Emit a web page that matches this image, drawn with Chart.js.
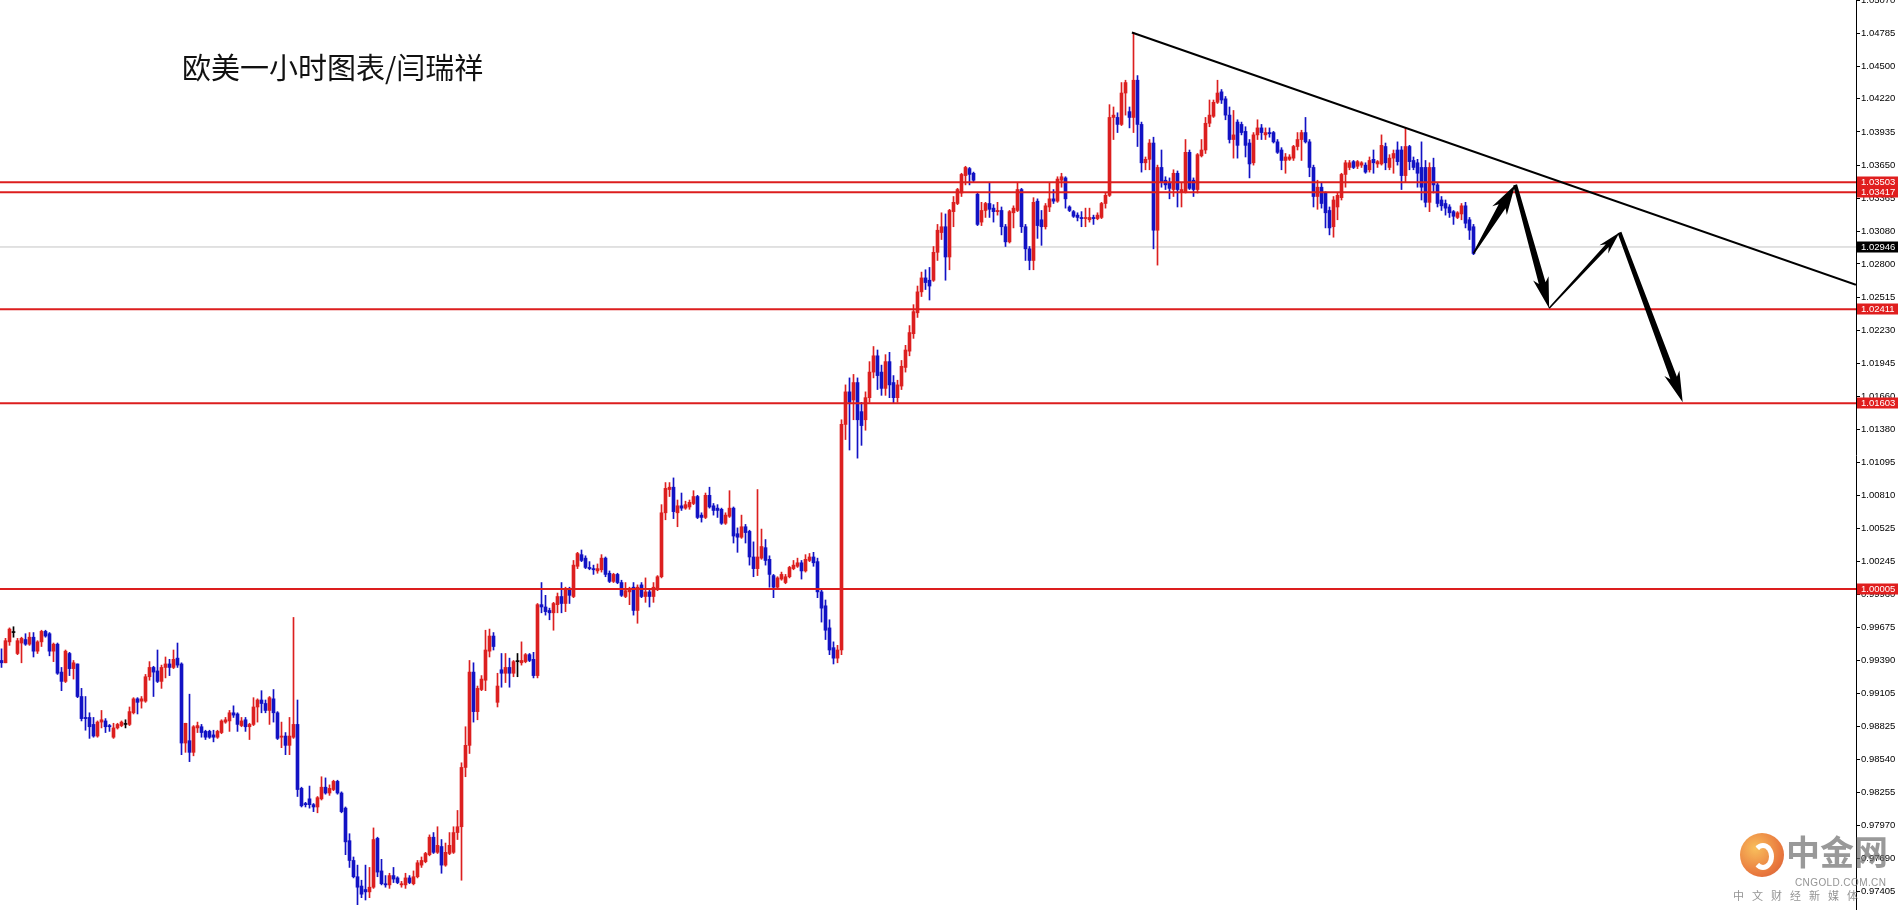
<!DOCTYPE html>
<html>
<head>
<meta charset="utf-8">
<title>欧美一小时图表</title>
<script src="https://cdn.jsdelivr.net/npm/chart.js@4.4.1/dist/chart.umd.min.js"></script>
<style>
  html, body { margin: 0; padding: 0; background: #fff; overflow: hidden; }
  #wrap { position: relative; width: 1898px; height: 910px; }
  #title { position: absolute; left: 182px; top: 52px; font-size: 29px; line-height: 29px;
           font-family: "Noto Sans CJK SC", sans-serif; color: #111; white-space: nowrap; }
  #logo { position: absolute; left: 1740px; top: 833px; width: 44px; height: 44px; border-radius: 50%;
          background: radial-gradient(circle at 35% 35%, #f8b440, #e5601c 65%, #c8401a); opacity: 0.85; }
  #swirl { position: absolute; left: 12px; top: 10px; width: 12px; height: 17px; border: 5px solid #fff;
           border-radius: 50%; border-left-color: transparent; }
  #wmName { position: absolute; left: 1786px; top: 834px; font: bold 34px/34px "Noto Sans CJK SC", sans-serif;
            color: rgba(110,110,110,0.7); white-space: nowrap; }
  #wmUrl { position: absolute; left: 1795px; top: 877px; font: 10px/12px "Liberation Sans", sans-serif;
           color: rgba(120,120,120,0.8); letter-spacing: 0.4px; white-space: nowrap; }
  #wmSub { position: absolute; left: 1733px; top: 889px; font: 11px/13px "Noto Sans CJK SC", sans-serif;
           color: rgba(120,120,120,0.8); letter-spacing: 8px; white-space: nowrap; }
</style>
</head>
<body>
<div id="wrap">
  <canvas id="eurusdChart"></canvas>
  <div id="title">欧美一小时图表/闫瑞祥</div>
  <div id="logo"><div id="swirl"></div></div>
  <div id="wmName">中金网</div>
  <div id="wmUrl">CNGOLD.COM.CN</div>
  <div id="wmSub">中文财经新媒体</div>
</div>
<script>
// hourly EUR/USD candles (oldest first)
const OPEN = [
  0.9939,0.9937,0.9955,0.9963,0.9945,0.9954,0.9957,0.9953,0.9959,0.9947,
  0.9955,0.9964,0.9962,0.9947,0.9953,0.9929,0.9921,0.9945,0.9932,0.9936,
  0.9908,0.9890,0.9890,0.9884,0.9874,0.9886,0.9887,0.9883,0.9873,0.9881,
  0.9883,0.9884,0.9884,0.9894,0.9906,0.9904,0.9904,0.9925,0.9933,0.9930,
  0.9921,0.9933,0.9936,0.9933,0.9941,0.9936,0.9868,0.9870,0.9860,0.9881,
  0.9882,0.9878,0.9878,0.9875,0.9873,0.9877,0.9886,0.9887,0.9894,0.9893,
  0.9883,0.9888,0.9882,0.9884,0.9899,0.9905,0.9902,0.9896,0.9906,0.9894,
  0.9873,0.9874,0.9866,0.9873,0.9884,0.9829,0.9816,0.9820,0.9815,0.9813,
  0.9820,0.9830,0.9825,0.9828,0.9835,0.9825,0.9812,0.9784,0.9767,0.9753,
  0.9745,0.9742,0.9740,0.9744,0.9786,0.9758,0.9747,0.9746,0.9754,0.9752,
  0.9746,0.9746,0.9752,0.9747,0.9753,0.9763,0.9766,0.9772,0.9787,0.9774,
  0.9779,0.9763,0.9773,0.9774,0.9791,0.9796,0.9847,0.9866,0.9929,0.9895,
  0.9914,0.9922,0.9947,0.9960,0.9903,0.9931,0.9928,0.9933,0.9928,0.9938,
  0.9937,0.9938,0.9944,0.9940,0.9926,0.9987,0.9985,0.9982,0.9980,0.9987,
  0.9994,0.9988,1.0000,0.9994,1.0020,1.0030,1.0027,1.0019,1.0018,1.0016,
  1.0017,1.0027,1.0014,1.0007,1.0013,1.0006,0.9994,0.9998,1.0002,0.9982,
  1.0004,0.9994,0.9998,0.9994,1.0000,1.0011,1.0066,1.0086,1.0088,1.0066,
  1.0072,1.0070,1.0071,1.0074,1.0080,1.0064,1.0062,1.0081,1.0072,1.0070,
  1.0069,1.0057,1.0063,1.0070,1.0048,1.0045,1.0054,1.0050,1.0028,1.0018,
  1.0027,1.0036,1.0026,1.0012,1.0002,1.0009,1.0006,1.0011,1.0018,1.0020,
  1.0023,1.0016,1.0025,1.0028,1.0024,0.9998,0.9986,0.9967,0.9950,0.9941,
  0.9948,1.0142,1.0170,1.0163,1.0178,1.0153,1.0146,1.0165,1.0187,1.0201,
  1.0187,1.0173,1.0196,1.0178,1.0165,1.0175,1.0191,1.0205,1.0220,1.0238,
  1.0256,1.0268,1.0266,1.0266,1.0290,1.0307,1.0312,1.0286,1.0325,1.0332,
  1.0341,1.0356,1.0362,1.0358,1.0340,1.0316,1.0326,1.0332,1.0328,1.0325,
  1.0326,1.0312,1.0299,1.0324,1.0326,1.0344,1.0312,1.0293,1.0283,1.0334,
  1.0318,1.0312,1.0329,1.0336,1.0334,1.0352,1.0354,1.0329,1.0325,1.0322,
  1.0320,1.0319,1.0318,1.0320,1.0319,1.0320,1.0332,1.0339,1.0406,1.0406,
  1.0400,1.0427,1.0411,1.0406,1.0438,1.0400,1.0367,1.0370,1.0384,1.0309,
  1.0363,1.0352,1.0350,1.0344,1.0358,1.0342,1.0342,1.0376,1.0352,1.0344,
  1.0373,1.0378,1.0401,1.0407,1.0419,1.0428,1.0422,1.0408,1.0387,1.0402,
  1.0400,1.0394,1.0384,1.0367,1.0391,1.0397,1.0391,1.0393,1.0393,1.0385,
  1.0378,1.0369,1.0370,1.0371,1.0381,1.0387,1.0393,1.0385,1.0363,1.0338,
  1.0346,1.0341,1.0326,1.0312,1.0329,1.0337,1.0357,1.0363,1.0368,1.0364,
  1.0365,1.0365,1.0361,1.0370,1.0366,1.0366,1.0381,1.0363,1.0371,1.0378,
  1.0378,1.0356,1.0381,1.0369,1.0367,1.0363,1.0363,1.0333,1.0363,1.0348,
  1.0335,1.0332,1.0329,1.0325,1.0320,1.0323,1.0330,1.0318,1.0312
];
const HIGH = [
  0.9949,0.9958,0.9967,0.9968,0.9958,0.9959,0.9962,0.9963,0.9963,0.9956,
  0.9965,0.9965,0.9963,0.9954,0.9954,0.9933,0.9948,0.9946,0.9939,0.9936,
  0.9915,0.9908,0.9894,0.9890,0.9887,0.9896,0.9889,0.9884,0.9885,0.9885,
  0.9887,0.9888,0.9899,0.9907,0.9907,0.9908,0.9927,0.9938,0.9934,0.9948,
  0.9935,0.9942,0.9940,0.9948,0.9954,0.9937,0.9885,0.9910,0.9883,0.9886,
  0.9884,0.9879,0.9879,0.9879,0.9879,0.9888,0.9890,0.9896,0.9900,0.9894,
  0.9890,0.9890,0.9885,0.9907,0.9906,0.9913,0.9905,0.9908,0.9914,0.9895,
  0.9886,0.9877,0.9890,0.9976,0.9905,0.9830,0.9817,0.9831,0.9816,0.9822,
  0.9839,0.9838,0.9832,0.9836,0.9836,0.9826,0.9813,0.9790,0.9770,0.9763,
  0.9750,0.9763,0.9761,0.9795,0.9787,0.9768,0.9754,0.9756,0.9761,0.9753,
  0.9749,0.9756,0.9754,0.9758,0.9767,0.9770,0.9774,0.9789,0.9791,0.9796,
  0.9785,0.9782,0.9791,0.9796,0.9810,0.9851,0.9882,0.9939,0.9937,0.9917,
  0.9926,0.9965,0.9966,0.9963,0.9928,0.9945,0.9945,0.9941,0.9939,0.9945,
  0.9955,0.9945,0.9945,0.9946,0.9988,1.0006,0.9995,0.9984,0.9989,0.9997,
  1.0006,1.0002,1.0002,1.0025,1.0032,1.0034,1.0029,1.0024,1.0021,1.0022,
  1.0030,1.0028,1.0016,1.0014,1.0014,1.0008,1.0006,1.0002,1.0006,1.0004,
  1.0006,1.0010,1.0000,1.0006,1.0012,1.0073,1.0092,1.0092,1.0096,1.0077,
  1.0083,1.0076,1.0077,1.0085,1.0081,1.0066,1.0083,1.0088,1.0074,1.0073,
  1.0070,1.0066,1.0085,1.0071,1.0053,1.0064,1.0056,1.0051,1.0041,1.0086,
  1.0052,1.0043,1.0029,1.0013,1.0011,1.0015,1.0013,1.0020,1.0025,1.0027,
  1.0025,1.0030,1.0031,1.0032,1.0027,1.0001,0.9991,0.9974,0.9955,0.9952,
  1.0146,1.0176,1.0182,1.0185,1.0182,1.0161,1.0170,1.0196,1.0209,1.0206,
  1.0193,1.0202,1.0204,1.0184,1.0180,1.0197,1.0210,1.0227,1.0245,1.0261,
  1.0273,1.0275,1.0277,1.0295,1.0314,1.0324,1.0323,1.0327,1.0338,1.0345,
  1.0358,1.0364,1.0363,1.0359,1.0341,1.0333,1.0333,1.0350,1.0331,1.0333,
  1.0329,1.0314,1.0326,1.0330,1.0350,1.0345,1.0314,1.0295,1.0337,1.0336,
  1.0326,1.0332,1.0350,1.0344,1.0355,1.0358,1.0355,1.0330,1.0326,1.0324,
  1.0325,1.0328,1.0328,1.0322,1.0324,1.0333,1.0341,1.0417,1.0415,1.0410,
  1.0436,1.0438,1.0415,1.0479,1.0442,1.0402,1.0372,1.0387,1.0389,1.0365,
  1.0378,1.0355,1.0354,1.0361,1.0360,1.0350,1.0387,1.0378,1.0354,1.0375,
  1.0387,1.0406,1.0421,1.0421,1.0438,1.0430,1.0424,1.0415,1.0412,1.0404,
  1.0402,1.0398,1.0387,1.0393,1.0404,1.0400,1.0397,1.0397,1.0394,1.0387,
  1.0380,1.0375,1.0374,1.0382,1.0393,1.0395,1.0406,1.0387,1.0365,1.0352,
  1.0350,1.0342,1.0329,1.0338,1.0341,1.0358,1.0369,1.0369,1.0369,1.0369,
  1.0368,1.0367,1.0372,1.0378,1.0369,1.0391,1.0384,1.0374,1.0378,1.0385,
  1.0381,1.0397,1.0382,1.0372,1.0370,1.0385,1.0369,1.0367,1.0371,1.0350,
  1.0338,1.0335,1.0331,1.0326,1.0325,1.0332,1.0333,1.0320,1.0314
];
const LOW = [
  0.9933,0.9937,0.9952,0.9959,0.9944,0.9937,0.9952,0.9952,0.9942,0.9945,
  0.9951,0.9959,0.9943,0.9938,0.9927,0.9913,0.9920,0.9926,0.9923,0.9907,
  0.9887,0.9879,0.9872,0.9873,0.9873,0.9881,0.9877,0.9878,0.9872,0.9880,
  0.9882,0.9881,0.9883,0.9893,0.9893,0.9898,0.9903,0.9922,0.9908,0.9920,
  0.9915,0.9924,0.9926,0.9932,0.9933,0.9858,0.9860,0.9852,0.9857,0.9877,
  0.9873,0.9871,0.9872,0.9869,0.9872,0.9876,0.9885,0.9878,0.9890,0.9878,
  0.9882,0.9878,0.9871,0.9883,0.9886,0.9894,0.9894,0.9884,0.9886,0.9871,
  0.9864,0.9858,0.9858,0.9872,0.9822,0.9813,0.9813,0.9812,0.9809,0.9808,
  0.9819,0.9824,0.9823,0.9827,0.9824,0.9808,0.9772,0.9761,0.9752,0.9729,
  0.9735,0.9733,0.9735,0.9743,0.9753,0.9746,0.9744,0.9743,0.9748,0.9747,
  0.9744,0.9743,0.9747,0.9746,0.9752,0.9761,0.9765,0.9771,0.9773,0.9773,
  0.9756,0.9762,0.9772,0.9773,0.9785,0.9750,0.9839,0.9859,0.9886,0.9888,
  0.9913,0.9913,0.9942,0.9948,0.9899,0.9916,0.9920,0.9916,0.9925,0.9925,
  0.9935,0.9937,0.9938,0.9924,0.9924,0.9980,0.9978,0.9974,0.9965,0.9980,
  0.9980,0.9981,0.9988,0.9993,1.0018,1.0024,1.0018,1.0017,1.0013,1.0014,
  1.0015,1.0011,1.0006,1.0006,1.0005,0.9994,0.9993,0.9987,0.9978,0.9971,
  0.9993,0.9989,0.9985,0.9989,0.9999,1.0010,1.0060,1.0080,1.0061,1.0054,
  1.0068,1.0069,1.0069,1.0073,1.0061,1.0058,1.0061,1.0070,1.0064,1.0062,
  1.0056,1.0056,1.0062,1.0040,1.0032,1.0044,1.0040,1.0021,1.0011,1.0012,
  1.0026,1.0021,1.0002,0.9993,1.0001,1.0008,1.0005,1.0010,1.0017,1.0019,
  1.0009,1.0015,1.0024,1.0020,0.9993,0.9972,0.9957,0.9944,0.9936,0.9937,
  0.9944,1.0129,1.0120,1.0146,1.0113,1.0124,1.0137,1.0161,1.0182,1.0172,
  1.0167,1.0167,1.0165,1.0160,1.0161,1.0172,1.0187,1.0201,1.0216,1.0234,
  1.0252,1.0258,1.0249,1.0265,1.0283,1.0301,1.0266,1.0275,1.0312,1.0331,
  1.0338,1.0348,1.0348,1.0350,1.0313,1.0313,1.0320,1.0320,1.0316,1.0322,
  1.0305,1.0295,1.0298,1.0311,1.0325,1.0307,1.0283,1.0275,1.0275,1.0302,
  1.0296,1.0310,1.0325,1.0332,1.0333,1.0346,1.0328,1.0325,1.0320,1.0317,
  1.0312,1.0312,1.0316,1.0314,1.0318,1.0319,1.0328,1.0338,1.0387,1.0393,
  1.0399,1.0408,1.0397,1.0393,1.0381,1.0359,1.0361,1.0361,1.0293,1.0279,
  1.0346,1.0344,1.0336,1.0338,1.0329,1.0329,1.0341,1.0344,1.0338,1.0341,
  1.0372,1.0375,1.0398,1.0406,1.0418,1.0418,1.0404,1.0384,1.0371,1.0371,
  1.0391,1.0372,1.0354,1.0365,1.0387,1.0387,1.0387,1.0389,1.0384,1.0375,
  1.0361,1.0358,1.0369,1.0369,1.0378,1.0369,1.0384,1.0355,1.0329,1.0327,
  1.0328,1.0311,1.0305,1.0303,1.0318,1.0335,1.0346,1.0361,1.0362,1.0362,
  1.0363,1.0358,1.0359,1.0358,1.0363,1.0365,1.0361,1.0361,1.0358,1.0365,
  1.0344,1.0350,1.0361,1.0361,1.0346,1.0335,1.0329,1.0325,1.0341,1.0329,
  1.0326,1.0322,1.0320,1.0314,1.0319,1.0318,1.0311,1.0301,1.0288
];
const CLOSE = [
  0.9937,0.9956,0.9966,0.9963,0.9956,0.9958,0.9953,0.9959,0.9947,0.9955,
  0.9964,0.9960,0.9947,0.9953,0.9928,0.9921,0.9947,0.9932,0.9937,0.9908,
  0.9889,0.9889,0.9882,0.9874,0.9886,0.9888,0.9882,0.9882,0.9881,0.9884,
  0.9886,0.9884,0.9895,0.9906,0.9903,0.9906,0.9925,0.9933,0.9929,0.9921,
  0.9933,0.9936,0.9933,0.9940,0.9935,0.9868,0.9885,0.9860,0.9882,0.9883,
  0.9877,0.9873,0.9873,0.9873,0.9878,0.9887,0.9888,0.9894,0.9892,0.9884,
  0.9887,0.9882,0.9884,0.9899,0.9905,0.9902,0.9896,0.9907,0.9894,0.9872,
  0.9874,0.9866,0.9874,0.9884,0.9828,0.9814,0.9815,0.9815,0.9813,0.9821,
  0.9830,0.9825,0.9829,0.9835,0.9825,0.9809,0.9783,0.9767,0.9753,0.9744,
  0.9738,0.9740,0.9744,0.9785,0.9757,0.9747,0.9746,0.9754,0.9751,0.9748,
  0.9747,0.9752,0.9748,0.9753,0.9765,0.9767,0.9773,0.9787,0.9774,0.9780,
  0.9763,0.9774,0.9780,0.9791,0.9796,0.9847,0.9866,0.9929,0.9895,0.9915,
  0.9923,0.9948,0.9960,0.9951,0.9917,0.9928,0.9933,0.9928,0.9938,0.9938,
  0.9939,0.9944,0.9939,0.9926,0.9987,0.9985,0.9981,0.9980,0.9988,0.9994,
  0.9988,1.0001,0.9995,1.0021,1.0031,1.0025,1.0019,1.0018,1.0017,1.0018,
  1.0027,1.0013,1.0007,1.0013,1.0006,0.9995,0.9999,1.0000,0.9982,1.0002,
  0.9994,0.9998,0.9994,1.0002,1.0011,1.0066,1.0087,1.0088,1.0067,1.0072,
  1.0070,1.0073,1.0075,1.0080,1.0062,1.0062,1.0081,1.0071,1.0068,1.0068,
  1.0057,1.0064,1.0070,1.0046,1.0045,1.0054,1.0049,1.0028,1.0018,1.0028,
  1.0037,1.0025,1.0013,1.0002,1.0010,1.0013,1.0011,1.0019,1.0021,1.0023,
  1.0016,1.0026,1.0028,1.0023,0.9998,0.9984,0.9965,0.9948,0.9941,0.9948,
  1.0142,1.0170,1.0161,1.0178,1.0146,1.0141,1.0165,1.0187,1.0201,1.0184,
  1.0173,1.0196,1.0176,1.0165,1.0176,1.0192,1.0206,1.0221,1.0239,1.0256,
  1.0268,1.0264,1.0261,1.0290,1.0309,1.0312,1.0286,1.0326,1.0333,1.0344,
  1.0357,1.0363,1.0357,1.0352,1.0314,1.0326,1.0332,1.0327,1.0325,1.0326,
  1.0312,1.0299,1.0325,1.0328,1.0344,1.0312,1.0293,1.0283,1.0333,1.0313,
  1.0312,1.0330,1.0336,1.0334,1.0353,1.0355,1.0336,1.0326,1.0321,1.0320,
  1.0319,1.0320,1.0320,1.0319,1.0322,1.0332,1.0339,1.0406,1.0408,1.0400,
  1.0427,1.0436,1.0406,1.0438,1.0400,1.0367,1.0370,1.0384,1.0309,1.0363,
  1.0350,1.0348,1.0345,1.0358,1.0344,1.0344,1.0376,1.0345,1.0344,1.0374,
  1.0378,1.0401,1.0408,1.0419,1.0427,1.0421,1.0408,1.0387,1.0391,1.0382,
  1.0393,1.0382,1.0366,1.0391,1.0397,1.0393,1.0393,1.0392,1.0385,1.0376,
  1.0369,1.0372,1.0372,1.0381,1.0387,1.0393,1.0385,1.0363,1.0338,1.0346,
  1.0332,1.0324,1.0311,1.0335,1.0339,1.0357,1.0367,1.0367,1.0363,1.0368,
  1.0367,1.0359,1.0369,1.0367,1.0368,1.0382,1.0367,1.0371,1.0375,1.0368,
  1.0356,1.0381,1.0368,1.0363,1.0358,1.0346,1.0333,1.0363,1.0348,1.0332,
  1.0330,1.0328,1.0324,1.0321,1.0324,1.0330,1.0315,1.0309,1.0289
];

// support / resistance levels and the current bid
const LEVELS = [1.03503, 1.03417, 1.02411, 1.01603, 1.00005];
const LAST_PRICE = 1.02946;

// right-hand price scale labels
const TICK_VALUES = [
  1.05070, 1.04785, 1.04500, 1.04220, 1.03935, 1.03650, 1.03365, 1.03080, 1.02800, 1.02515,
  1.02230, 1.01945, 1.01660, 1.01380, 1.01095, 1.00810, 1.00525, 1.00245, 0.99960, 0.99675,
  0.99390, 0.99105, 0.98825, 0.98540, 0.98255, 0.97970, 0.97690, 0.97405
];

// falling trend line (bar index, price)
const TREND_X = [282.6, 463.6];
const TREND_Y = [1.0479, 1.0262];

// projected zig-zag path drawn as arrows (bar index, price)
const PATH_X = [368, 378.4, 386.9, 404.5, 420.3];
const PATH_Y = [1.0289, 1.0348, 1.0242, 1.0307, 1.0161];

const X_MIN = -0.375, X_MAX = 463.625;
const Y_MIN = 0.97244, Y_MAX = 1.0507;

const UP = '#dc1f1f', DOWN = '#1212c4', FLAT = '#000000';
const candleColors = OPEN.map((o, i) => CLOSE[i] > o ? UP : (CLOSE[i] < o ? DOWN : FLAT));

// arrow look for each leg of the path
const ARROW_STYLE = [
  { w0: 1.5, w1: 8, hw: 17, hl: 25 },
  { w0: 4, w1: 7, hw: 16, hl: 26 },
  { w0: 1.5, w1: 4, hw: 12, hl: 18 },
  { w0: 4, w1: 7, hw: 16, hl: 26 }
];

function drawArrow(ctx, x0, y0, x1, y1, s) {
    const dx = x1 - x0, dy = y1 - y0, len = Math.hypot(dx, dy);
    const ux = dx / len, uy = dy / len, nx = -uy, ny = ux;
    const bx = x1 - ux * s.hl, by = y1 - uy * s.hl;
    const barb = 5;
    ctx.beginPath();
    ctx.moveTo(x0 + nx * s.w0 / 2, y0 + ny * s.w0 / 2);
    ctx.lineTo(bx + nx * s.w1 / 2, by + ny * s.w1 / 2);
    ctx.lineTo(bx - ux * barb + nx * s.hw / 2, by - uy * barb + ny * s.hw / 2);
    ctx.lineTo(x1, y1);
    ctx.lineTo(bx - ux * barb - nx * s.hw / 2, by - uy * barb - ny * s.hw / 2);
    ctx.lineTo(bx - nx * s.w1 / 2, by - ny * s.w1 / 2);
    ctx.lineTo(x0 - nx * s.w0 / 2, y0 - ny * s.w0 / 2);
    ctx.closePath();
    ctx.fill();
}

const arrowPlugin = {
    id: 'arrowPath',
    afterDatasetsDraw(chart) {
        const { ctx, scales: { x, y } } = chart;
        ctx.save();
        ctx.fillStyle = '#000';
        for (let k = 0; k < PATH_X.length - 1; k++) {
            drawArrow(ctx,
                x.getPixelForValue(PATH_X[k]), y.getPixelForValue(PATH_Y[k]),
                x.getPixelForValue(PATH_X[k + 1]), y.getPixelForValue(PATH_Y[k + 1]),
                ARROW_STYLE[k]);
        }
        ctx.restore();
    }
};

// coloured price tags sitting on the right axis
const priceTags = {
    id: 'priceTags',
    afterDraw(chart) {
        const { ctx, scales: { y } } = chart;
        const left = Math.round(chart.chartArea.right) + 1;
        const tags = LEVELS.map(v => [v, '#e01e1e']).concat([[LAST_PRICE, '#000']]);
        ctx.save();
        ctx.font = '9.5px "Liberation Sans", sans-serif';
        ctx.textBaseline = 'middle';
        tags.forEach(([v, c]) => {
            const py = Math.round(y.getPixelForValue(v));
            ctx.fillStyle = c;
            ctx.fillRect(left, py - 5.5, chart.width - left, 11);
            ctx.fillStyle = '#fff';
            ctx.fillText(v.toFixed(5), left + 4, py + 0.5);
        });
        ctx.restore();
    }
};

const flatLine = (v) => [{ x: X_MIN, y: v }, { x: X_MAX, y: v }];

const datasets = [
    {
        type: 'bar',
        data: LOW.map((l, i) => ({ x: i, y: [l, HIGH[i]] })),
        backgroundColor: candleColors,
        barThickness: 1,
        grouped: false,
        borderWidth: 0,
        order: 3
    },
    {
        type: 'bar',
        data: OPEN.map((o, i) => ({ x: i, y: [o, CLOSE[i]] })),
        backgroundColor: candleColors,
        barThickness: 3,
        minBarLength: 1,
        grouped: false,
        borderWidth: 0,
        order: 2
    },
    {
        type: 'line',
        data: flatLine(LAST_PRICE),
        borderColor: '#c4c4c4',
        borderWidth: 1,
        pointRadius: 0,
        order: 4
    },
    ...LEVELS.map(v => ({
        type: 'line',
        data: flatLine(v),
        borderColor: '#dc1e1e',
        borderWidth: 2,
        pointRadius: 0,
        order: 1
    })),
    {
        type: 'line',
        data: TREND_X.map((tx, i) => ({ x: tx, y: TREND_Y[i] })),
        borderColor: '#000',
        borderWidth: 2,
        pointRadius: 0,
        order: 0
    }
];

const ctx = document.getElementById('eurusdChart').getContext('2d');
new Chart(ctx, {
    type: 'bar',
    data: { datasets: datasets },
    options: {
        responsive: true,
        maintainAspectRatio: false,
        animation: false,
        devicePixelRatio: 1,
        layout: { padding: 0 },
        scales: {
            x: {
                type: 'linear',
                min: X_MIN,
                max: X_MAX,
                offset: false,
                display: false
            },
            y: {
                position: 'right',
                min: Y_MIN,
                max: Y_MAX,
                afterBuildTicks: scale => {
                    scale.ticks = TICK_VALUES.map(v => ({ value: v }));
                },
                afterFit: scale => {
                    scale.width = 42;
                    scale.paddingTop = 0;
                    scale.paddingBottom = 0;
                },
                ticks: {
                    autoSkip: false,
                    padding: 1,
                    color: '#000',
                    font: { family: 'Liberation Sans', size: 9.5 },
                    callback: v => v.toFixed(5)
                },
                grid: { drawOnChartArea: false, drawTicks: true, tickLength: 4, color: '#000' },
                border: { display: true, color: '#000', width: 1 }
            }
        },
        plugins: {
            legend: { display: false },
            tooltip: { enabled: false }
        }
    },
    plugins: [arrowPlugin, priceTags]
});
</script>
</body>
</html>
